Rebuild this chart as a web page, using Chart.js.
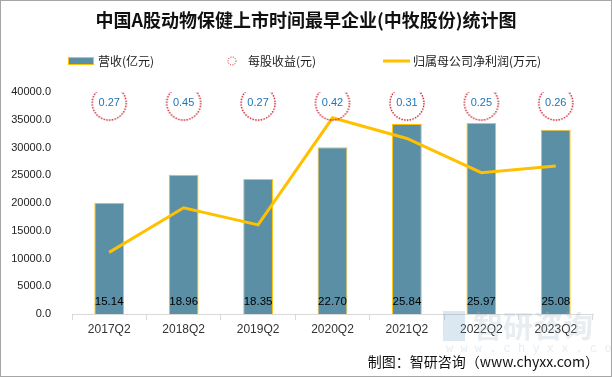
<!DOCTYPE html>
<html>
<head>
<meta charset="utf-8">
<script src="https://cdn.jsdelivr.net/npm/chart.js@4.4.1/dist/chart.umd.min.js"></script>
<style>
    html, body { margin: 0; padding: 0; background: #fff; }
    #wrap { position: relative; width: 612px; height: 377px; box-sizing: border-box; border: 1px solid #a6a6a6; }
    canvas { display: block; }
</style>
</head>
<body>
<div id="wrap"><canvas id="chart" width="610" height="375"></canvas></div>
<script>
// 数据
const quarters = ['2017Q2', '2018Q2', '2019Q2', '2020Q2', '2021Q2', '2022Q2', '2023Q2'];
const revenue = [15.14, 18.96, 18.35, 22.70, 25.84, 25.97, 25.08];   // 营收(亿元)
const eps = [0.27, 0.45, 0.27, 0.42, 0.31, 0.25, 0.26];               // 每股收益(元)
const netProfit = [11100, 19130, 16050, 35350, 31620, 25470, 26660];  // 归属母公司净利润(万元)
const yTicks = [0, 5000, 10000, 15000, 20000, 25000, 30000, 35000, 40000];

const BAR_COLOR = '#5b8fa6';
const GOLD = '#ffc000';
const RED = '#c8101c';

// dotted red circle used as the EPS marker
function dottedCircle(r) {
    const c = document.createElement('canvas');
    c.width = c.height = r * 2 + 4;
    const g = c.getContext('2d');
    g.strokeStyle = RED;
    g.lineWidth = 1.4;
    g.setLineDash([1.4, 1.4]);
    g.beginPath();
    g.arc(r + 2, r + 2, r, 0, Math.PI * 2);
    g.stroke();
    return c;
}
const epsMarker = dottedCircle(17);

// title, legend, value labels, footer
const decorations = {
    id: 'decorations',
    afterDatasetsDraw(chart) {
        const ctx = chart.ctx;
        const area = chart.chartArea;
        ctx.save();

        // bar values at the bottom of each bar
        ctx.fillStyle = '#000';
        ctx.font = '11.5px "Liberation Sans", Arial, sans-serif';
        ctx.textAlign = 'center';
        ctx.textBaseline = 'middle';
        chart.getDatasetMeta(2).data.forEach((bar, i) => {
            ctx.fillText(revenue[i].toFixed(2), bar.x, area.bottom - 12);
        });

        // eps values inside circles
        ctx.fillStyle = '#1f74b8';
        ctx.font = '11px "Liberation Sans", Arial, sans-serif';
        chart.getDatasetMeta(0).data.forEach((pt, i) => {
            ctx.fillText(eps[i].toFixed(2), pt.x, pt.y);
        });
        ctx.restore();
    },
    afterDraw(chart) {
        const ctx = chart.ctx;
        ctx.save();
        // title
        ctx.fillStyle = '#111';
        ctx.font = 'bold 18px "Noto Sans CJK SC", sans-serif';
        ctx.textAlign = 'center';
        ctx.textBaseline = 'middle';
        ctx.fillText('中国A股动物保健上市时间最早企业(中牧股份)统计图', 305, 19);

        // legend
        const ly = 60;
        ctx.font = '12px "Noto Sans CJK SC", sans-serif';
        ctx.textAlign = 'left';
        ctx.fillStyle = BAR_COLOR;
        ctx.fillRect(67, ly - 4, 26, 8);
        ctx.strokeStyle = GOLD;
        ctx.lineWidth = 1;
        ctx.strokeRect(67.5, ly - 3.5, 25, 7);
        ctx.fillStyle = '#222';
        ctx.fillText(chart.data.datasets[2].label, 97, ly);

        ctx.strokeStyle = RED;
        ctx.lineWidth = 1;
        ctx.setLineDash([1, 1.4]);
        ctx.beginPath();
        ctx.arc(231, ly, 4, 0, Math.PI * 2);
        ctx.stroke();
        ctx.setLineDash([]);
        ctx.fillStyle = '#222';
        ctx.fillText(chart.data.datasets[0].label, 247, ly);

        ctx.strokeStyle = GOLD;
        ctx.lineWidth = 3;
        ctx.beginPath();
        ctx.moveTo(382, ly);
        ctx.lineTo(409, ly);
        ctx.stroke();
        ctx.fillText(chart.data.datasets[1].label, 412, ly);

        // watermark
        ctx.globalAlpha = 0.25;
        ctx.fillStyle = '#9fb6c8';
        ctx.font = 'bold 30px "Noto Sans CJK SC", sans-serif';
        ctx.fillText('智研咨询', 472, 325);
        ctx.font = '12px "Liberation Mono", monospace';
        ctx.fillText('w w w . c h y x x . c o m', 445, 348);
        ctx.fillStyle = '#6f9fc8';
        ctx.fillRect(442, 310, 22, 30);
        ctx.globalAlpha = 1;

        // footer
        ctx.fillStyle = '#111';
        ctx.font = '14px "Noto Sans CJK SC", sans-serif';
        ctx.textAlign = 'right';
        ctx.fillText('制图：智研咨询（www.chyxx.com）', 598, 361);
        ctx.restore();
    }
};

const ctx = document.getElementById('chart').getContext('2d');
new Chart(ctx, {
    type: 'bar',
    data: {
        labels: quarters,
        datasets: [{
            type: 'line',
            label: '每股收益(元)',
            data: eps.map(() => 0.95),
            yAxisID: 'yEps',
            showLine: false,
            pointStyle: epsMarker,
            pointRadius: 17,
            order: 0
        }, {
            type: 'line',
            label: '归属母公司净利润(万元)',
            data: netProfit,
            yAxisID: 'y',
            borderColor: GOLD,
            backgroundColor: GOLD,
            borderWidth: 3,
            pointRadius: 0,
            tension: 0,
            order: 1
        }, {
            type: 'bar',
            label: '营收(亿元)',
            data: revenue,
            yAxisID: 'yRev',
            backgroundColor: BAR_COLOR,
            borderColor: GOLD,
            borderWidth: 1,
            barPercentage: 0.4,
            categoryPercentage: 1,
            order: 2
        }]
    },
    options: {
        responsive: false,
        animation: false,
        events: [],
        layout: { padding: { top: 91, right: 0, bottom: 22, left: 0 } },
        plugins: {
            legend: { display: false },
            tooltip: { enabled: false },
            title: { display: false }
        },
        scales: {
            x: {
                offset: true,
                afterFit: s => { s.height = 40; },
                grid: { offset: true, drawOnChartArea: false, drawTicks: true, tickLength: 6, color: '#d9d9d9' },
                border: { color: '#d9d9d9' },
                ticks: {
                    color: '#333',
                    padding: 2,
                    font: { family: '"Liberation Sans", Arial, sans-serif', size: 12 }
                }
            },
            y: {
                position: 'left',
                min: 0,
                max: 40000,
                afterFit: s => { s.width = 71; },
                afterBuildTicks: s => { s.ticks = yTicks.map(v => ({ value: v })); },
                grid: { display: false },
                border: { display: false },
                ticks: {
                    color: '#222',
                    padding: 13,
                    font: { family: '"Liberation Sans", Arial, sans-serif', size: 11 },
                    callback: v => v.toFixed(1)
                }
            },
            yRev: { display: false, min: 0, max: 30.2 },
            yEps: { display: false, min: 0, max: 1 }
        }
    },
    plugins: [decorations]
});
</script>
</body>
</html>
